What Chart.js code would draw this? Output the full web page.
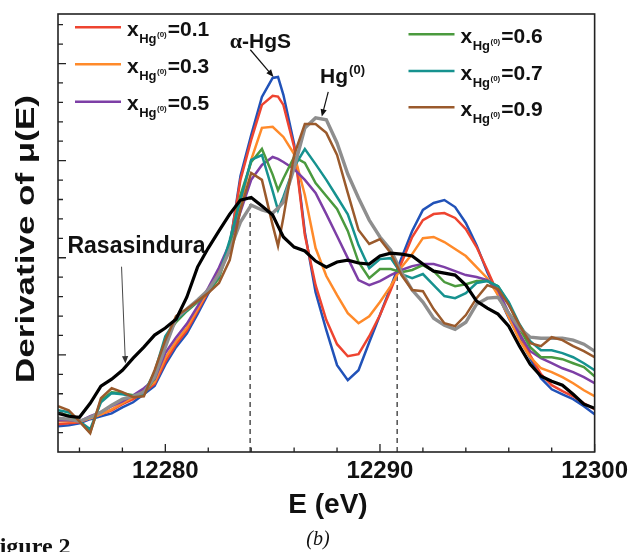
<!DOCTYPE html>
<html>
<head>
<meta charset="utf-8">
<script src="https://cdn.jsdelivr.net/npm/chart.js@4.4.1/dist/chart.umd.min.js"></script>
<style>
  html, body { margin: 0; padding: 0; background: #fff; }
  canvas { display: block; }
</style>
</head>
<body>
<canvas id="xanesChart" width="633" height="552"></canvas>
<script>
// Energy grid (eV)
const energy = [12275, 12275.5, 12276, 12276.5, 12277, 12277.5, 12278, 12278.5, 12279, 12279.5,
    12280, 12280.5, 12281, 12281.5, 12282, 12282.5, 12283, 12283.5, 12284, 12284.5,
    12285, 12285.25, 12285.5, 12286, 12286.5, 12287, 12287.5, 12288, 12288.5, 12289,
    12289.5, 12290, 12290.5, 12291, 12291.5, 12292, 12292.5, 12293, 12293.5, 12294,
    12294.5, 12295, 12295.5, 12296, 12296.5, 12297, 12297.5, 12298, 12298.5, 12299,
    12299.5, 12300];

// Derivative of mu(E), arbitrary units
const rasasindura = [1.99, 1.84, 1.79, 2.51, 3.39, 3.75, 4.21, 4.83, 5.40, 6.02,
    6.38, 6.84, 7.97, 9.52, 10.50, 11.38, 12.25, 12.97, 13.10, 12.66,
    12.20, 11.63, 11.07, 10.55, 10.35, 9.83, 9.52, 9.78, 9.88, 9.73,
    9.68, 10.09, 10.24, 10.19, 10.09, 9.68, 9.31, 9.21, 9.11, 8.59,
    7.77, 7.41, 7.10, 6.48, 5.45, 4.52, 3.90, 3.64, 3.44, 2.97,
    2.46, 2.25];
const alphaHgS = [1.32, 1.38, 1.48, 1.69, 1.84, 1.99, 2.30, 2.56, 2.97, 3.40,
    4.50, 5.40, 6.10, 7.10, 8.15, 9.15, 10.60, 14.21, 16.32, 18.28,
    19.26, 19.31, 18.39, 15.86, 11.32, 8.23, 6.27, 4.47, 3.70, 4.21,
    5.65, 7.05, 8.49, 9.98, 11.38, 12.46, 12.82, 12.97, 12.61, 11.79,
    10.65, 9.26, 8.08, 6.89, 5.86, 4.83, 3.80, 3.23, 2.97, 2.72,
    2.36, 1.94];
const x01 = [1.43, 1.48, 1.53, 1.74, 1.94, 2.15, 2.46, 2.72, 3.08, 3.50,
    4.65, 5.55, 6.25, 7.25, 8.25, 9.25, 10.65, 14.01, 16.07, 17.87,
    18.34, 18.30, 17.87, 15.71, 11.17, 8.59, 6.79, 5.55, 4.93, 5.04,
    5.96, 7.05, 8.34, 9.73, 11.07, 11.94, 12.25, 12.30, 12.05, 11.48,
    10.55, 9.37, 8.13, 7.10, 6.12, 4.98, 4.01, 3.44, 3.13, 2.87,
    2.51, 2.20];
const x03 = [1.58, 1.58, 1.58, 1.74, 1.94, 2.20, 2.51, 2.82, 3.18, 3.60,
    4.85, 5.70, 6.40, 7.35, 8.35, 9.35, 10.70, 12.72, 15.04, 16.69,
    16.74, 16.48, 16.22, 15.34, 13.23, 10.50, 9.06, 8.08, 7.15, 6.63,
    6.99, 7.72, 8.54, 9.52, 10.19, 11.01, 11.07, 10.81, 10.45, 10.09,
    9.52, 8.95, 8.08, 6.94, 5.76, 4.88, 4.31, 4.11, 3.85, 3.54,
    3.18, 2.87];
const x05 = [1.63, 1.63, 1.58, 1.84, 2.05, 2.36, 2.61, 2.92, 3.28, 3.75,
    5.10, 5.90, 6.60, 7.50, 8.45, 9.50, 10.75, 12.36, 14.01, 14.78,
    15.19, 15.09, 14.93, 14.57, 14.01, 13.34, 12.25, 11.12, 9.98, 8.85,
    8.59, 8.80, 9.11, 9.37, 9.57, 9.68, 9.68, 9.52, 9.31, 9.11,
    9.01, 8.85, 8.34, 7.15, 6.07, 5.19, 4.83, 4.57, 4.31, 4.11,
    3.85, 3.54];
const x06 = [1.99, 1.89, 1.58, 1.02, 2.66, 3.08, 3.03, 2.92, 2.97, 3.80,
    5.86, 6.69, 7.25, 7.72, 8.23, 8.95, 10.65, 13.23, 14.93, 15.60,
    14.28, 13.48, 14.08, 15.19, 14.88, 13.85, 13.18, 12.51, 11.38, 9.78,
    8.95, 9.42, 9.42, 9.26, 9.37, 9.62, 9.31, 8.75, 8.54, 8.64,
    8.80, 8.80, 8.54, 7.66, 6.38, 5.40, 4.88, 4.88, 4.78, 4.57,
    4.37, 3.90];
const x07 = [2.15, 2.05, 1.58, 1.17, 2.56, 3.03, 2.97, 2.87, 3.03, 4.11,
    5.96, 6.79, 7.30, 7.77, 8.28, 9.06, 10.91, 12.97, 15.04, 15.29,
    13.43, 12.45, 13.13, 14.68, 15.60, 14.82, 14.01, 13.13, 12.24, 10.65,
    9.46, 9.93, 9.98, 9.16, 8.95, 9.16, 8.59, 8.03, 7.92, 8.18,
    8.70, 8.80, 8.54, 7.72, 6.58, 5.71, 5.24, 5.24, 5.09, 4.88,
    4.57, 4.21];
const x09 = [2.36, 2.15, 1.58, 0.96, 2.77, 3.28, 3.08, 2.82, 2.87, 4.21,
    5.76, 7.00, 7.36, 7.77, 8.18, 8.70, 9.88, 12.46, 14.37, 14.01,
    11.68, 10.61, 12.07, 15.29, 16.89, 16.89, 16.43, 15.29, 13.34, 11.43,
    10.71, 10.96, 10.24, 9.11, 8.34, 8.28, 7.36, 6.63, 6.48, 7.05,
    7.92, 8.59, 8.39, 7.56, 6.53, 5.60, 5.45, 5.91, 5.76, 5.45,
    5.19, 4.88];
const hg0 = [1.74, 1.69, 1.58, 1.79, 2.05, 2.41, 2.72, 2.87, 3.08, 3.85,
    5.40, 6.89, 7.36, 7.82, 8.34, 9.16, 10.40, 11.84, 12.71, 12.46,
    12.30, 12.56, 12.87, 14.62, 16.68, 17.20, 17.10, 15.91, 14.31, 13.08,
    11.94, 11.07, 10.40, 9.26, 8.34, 7.72, 6.89, 6.53, 6.32, 6.68,
    7.61, 7.92, 7.97, 7.15, 6.38, 5.91, 5.86, 5.86, 5.86, 5.76,
    5.55, 5.19];

// Dashed guide lines (energy, top value)
const guideEnergy = [12283.95, 12290.8];
const guideTop = [13.1, 9.6];

// Tick values
const majorTicksX = [12280, 12290, 12300];
const minorTicksX = [12276, 12278, 12282, 12284, 12286, 12288, 12292, 12294, 12296, 12298];
const ticksY = [1, 2, 3, 4, 5, 6, 7, 8, 9, 10, 11, 12, 13, 14, 15, 16, 17, 18, 19, 20, 21, 22];

const FONT = '"Liberation Sans", Arial, Helvetica, sans-serif';
const SERIF = '"Liberation Serif", "Times New Roman", serif';

function toPoints(values) {
    return energy.map((e, i) => ({ x: e, y: values[i] }));
}

function lineSet(label, values, color, width) {
    return {
        label: label,
        data: toPoints(values),
        borderColor: color,
        borderWidth: width,
        pointRadius: 0,
        tension: 0,
        fill: false
    };
}

function guideSet(i) {
    return {
        label: 'guide' + i,
        data: [{ x: guideEnergy[i], y: 0 }, { x: guideEnergy[i], y: guideTop[i] }],
        borderColor: '#333',
        borderWidth: 1.3,
        borderDash: [5, 4],
        pointRadius: 0,
        fill: false
    };
}

function drawArrow(ctx, x1, y1, x2, y2, width, head, color) {
    const ang = Math.atan2(y2 - y1, x2 - x1);
    ctx.strokeStyle = color;
    ctx.fillStyle = color;
    ctx.lineWidth = width;
    ctx.beginPath();
    ctx.moveTo(x1, y1);
    ctx.lineTo(x2 - Math.cos(ang) * head * 0.8, y2 - Math.sin(ang) * head * 0.8);
    ctx.stroke();
    ctx.beginPath();
    ctx.moveTo(x2, y2);
    ctx.lineTo(x2 - head * Math.cos(ang - 0.4), y2 - head * Math.sin(ang - 0.4));
    ctx.lineTo(x2 - head * Math.cos(ang + 0.4), y2 - head * Math.sin(ang + 0.4));
    ctx.closePath();
    ctx.fill();
}

// Legend entry: coloured line + x_{Hg^(0)}=value
function drawLegendItem(ctx, x, y, color, value) {
    ctx.strokeStyle = color;
    ctx.lineWidth = 2.4;
    ctx.beginPath();
    ctx.moveTo(x, y);
    ctx.lineTo(x + 46, y);
    ctx.stroke();

    let tx = x + 52;
    const base = y + 8.5;
    ctx.fillStyle = '#111';
    ctx.textAlign = 'left';
    ctx.textBaseline = 'alphabetic';
    ctx.font = 'bold 21px ' + FONT;
    ctx.fillText('x', tx, base);
    tx += ctx.measureText('x').width + 0.5;
    ctx.font = 'bold 13px ' + FONT;
    ctx.fillText('Hg', tx, base + 7);
    tx += ctx.measureText('Hg').width + 0.5;
    ctx.font = 'bold 8px ' + FONT;
    ctx.fillText('(0)', tx, base + 1);
    tx += ctx.measureText('(0)').width + 1;
    ctx.font = 'bold 21px ' + FONT;
    ctx.fillText('=' + value, tx, base);
}

const decorPlugin = {
    id: 'decor',
    afterDatasetsDraw(chart) {
        const ctx = chart.ctx;
        const xs = chart.scales.x;
        const ys = chart.scales.y;
        const area = chart.chartArea;
        ctx.save();

        // frame
        ctx.strokeStyle = '#222';
        ctx.lineWidth = 1.6;
        ctx.strokeRect(area.left, area.top, area.right - area.left, area.bottom - area.top);

        // inward ticks
        ctx.lineWidth = 1.3;
        ctx.beginPath();
        majorTicksX.forEach(v => {
            const px = xs.getPixelForValue(v);
            ctx.moveTo(px, area.bottom);
            ctx.lineTo(px, area.bottom - 8);
        });
        minorTicksX.forEach(v => {
            const px = xs.getPixelForValue(v);
            ctx.moveTo(px, area.bottom);
            ctx.lineTo(px, area.bottom - 4.5);
        });
        ticksY.forEach(v => {
            const py = ys.getPixelForValue(v);
            const len = v % 5 === 0 ? 8 : 5;
            ctx.moveTo(area.left, py);
            ctx.lineTo(area.left + len, py);
        });
        ctx.stroke();

        // annotations
        ctx.fillStyle = '#111';
        ctx.textAlign = 'left';
        ctx.textBaseline = 'alphabetic';

        let ax = xs.getPixelForValue(12283.0);
        let ay = ys.getPixelForValue(20.81);
        ctx.font = 'bold 22px ' + SERIF;
        ctx.fillText('\u03b1', ax, ay);
        ax += ctx.measureText('\u03b1').width;
        ctx.font = 'bold 21px ' + FONT;
        ctx.fillText('-HgS', ax, ay);
        drawArrow(ctx, xs.getPixelForValue(12283.96), ys.getPixelForValue(20.71),
            xs.getPixelForValue(12285.04), ys.getPixelForValue(19.31), 1.2, 8, '#111');

        let hx = xs.getPixelForValue(12287.21);
        const hy = ys.getPixelForValue(19.0);
        ctx.font = 'bold 21px ' + FONT;
        ctx.fillText('Hg', hx, hy);
        hx += ctx.measureText('Hg').width + 1;
        ctx.font = 'bold 13px ' + FONT;
        ctx.fillText('(0)', hx, hy - 9);
        drawArrow(ctx, xs.getPixelForValue(12287.59), ys.getPixelForValue(18.54),
            xs.getPixelForValue(12287.29), ys.getPixelForValue(17.27), 1.2, 8, '#111');

        ctx.font = 'bold 23px ' + FONT;
        ctx.fillText('Rasasindura', xs.getPixelForValue(12275.44), ys.getPixelForValue(10.24));
        drawArrow(ctx, xs.getPixelForValue(12277.96), ys.getPixelForValue(9.54),
            xs.getPixelForValue(12278.14), ys.getPixelForValue(4.56), 0.9, 8, '#333');

        // legend
        drawLegendItem(ctx, 75, 27.3, '#ee4430', '0.1');
        drawLegendItem(ctx, 75, 64.3, '#ff8a2a', '0.3');
        drawLegendItem(ctx, 75, 101.7, '#7d3fa6', '0.5');
        drawLegendItem(ctx, 408.5, 34.3, '#4b9a3e', '0.6');
        drawLegendItem(ctx, 408.5, 71, '#16928f', '0.7');
        drawLegendItem(ctx, 408.5, 107.3, '#9a5a2c', '0.9');

        // axis titles
        ctx.save();
        ctx.translate(27, 239);
        ctx.rotate(-Math.PI / 2);
        ctx.scale(1.4, 1);
        ctx.font = 'bold 25px ' + FONT;
        ctx.textAlign = 'center';
        ctx.textBaseline = 'middle';
        ctx.fillText('Derivative of \u03bc(E)', 0, 0);
        ctx.restore();

        ctx.textAlign = 'center';
        ctx.textBaseline = 'middle';
        ctx.font = 'bold 28px ' + FONT;
        ctx.fillText('E (eV)', 328, 505);

        ctx.font = 'italic 20px ' + SERIF;
        ctx.fillText('(b)', 318, 540);

        ctx.textAlign = 'left';
        ctx.textBaseline = 'alphabetic';
        ctx.font = 'bold 24px ' + SERIF;
        ctx.fillText('Figure 2', -15, 554);

        ctx.restore();
    }
};

const ctx = document.getElementById('xanesChart').getContext('2d');

window.xanesChart = new Chart(ctx, {
    type: 'line',
    data: {
        datasets: [
            lineSet('Rasasindura', rasasindura, '#000000', 3.2),
            lineSet('x=0.9', x09, '#9a5a2c', 2.5),
            lineSet('Hg(0)', hg0, '#8e8e8e', 3.4),
            lineSet('x=0.7', x07, '#16928f', 2.5),
            lineSet('x=0.6', x06, '#4b9a3e', 2.5),
            lineSet('x=0.5', x05, '#7d3fa6', 2.5),
            lineSet('x=0.3', x03, '#ff8a2a', 2.5),
            lineSet('x=0.1', x01, '#ee4430', 2.5),
            lineSet('alpha-HgS', alphaHgS, '#2152b8', 2.5),
            guideSet(0),
            guideSet(1)
        ]
    },
    options: {
        responsive: false,
        animation: false,
        layout: { padding: { left: 58, right: 36, top: 14, bottom: 0 } },
        plugins: {
            legend: { display: false },
            tooltip: { enabled: false }
        },
        scales: {
            x: {
                type: 'linear',
                min: 12275,
                max: 12300,
                grid: { display: false, drawTicks: false },
                border: { display: false },
                afterBuildTicks: scale => {
                    scale.ticks = majorTicksX.map(v => ({ value: v }));
                },
                afterFit: scale => { scale.height = 100; },
                ticks: {
                    autoSkip: false,
                    maxRotation: 0,
                    padding: 5,
                    color: '#111',
                    font: { family: FONT, size: 24, weight: 'bold' },
                    callback: v => String(v)
                }
            },
            y: {
                display: false,
                min: 0,
                max: 22.55
            }
        }
    },
    plugins: [decorPlugin]
});
</script>
</body>
</html>
